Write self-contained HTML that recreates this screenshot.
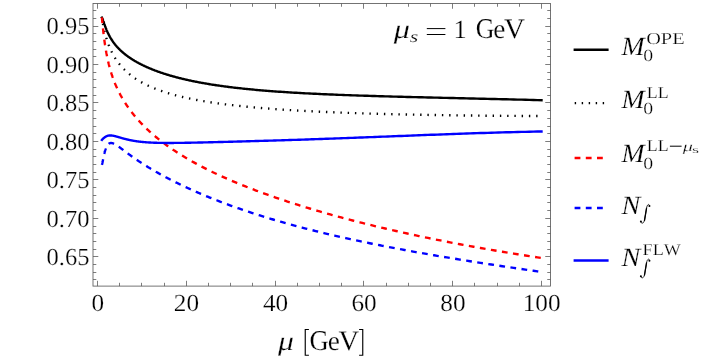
<!DOCTYPE html>
<html><head><meta charset="utf-8"><title>plot</title>
<style>html,body{margin:0;padding:0;background:#fff}svg{display:block;will-change:transform}text{font-family:"Liberation Serif",serif;fill:#000;text-rendering:geometricPrecision;font-kerning:none;stroke:#fff;stroke-width:0.22px}</style>
</head><body>
<svg width="711" height="363" viewBox="0 0 711 363">
<rect x="93.0" y="3.45" width="457.54999999999995" height="282.65000000000003" fill="none" stroke="#5c5c5c" stroke-width="0.85"/>
<path d="M97.50 286.1 v-5.3 M97.50 3.45 v5.3 M119.50 286.1 v-3.3 M119.50 3.45 v3.3 M141.50 286.1 v-3.3 M141.50 3.45 v3.3 M164.50 286.1 v-3.3 M164.50 3.45 v3.3 M186.50 286.1 v-5.3 M186.50 3.45 v5.3 M208.50 286.1 v-3.3 M208.50 3.45 v3.3 M230.50 286.1 v-3.3 M230.50 3.45 v3.3 M252.50 286.1 v-3.3 M252.50 3.45 v3.3 M275.50 286.1 v-5.3 M275.50 3.45 v5.3 M297.50 286.1 v-3.3 M297.50 3.45 v3.3 M319.50 286.1 v-3.3 M319.50 3.45 v3.3 M341.50 286.1 v-3.3 M341.50 3.45 v3.3 M363.50 286.1 v-5.3 M363.50 3.45 v5.3 M386.50 286.1 v-3.3 M386.50 3.45 v3.3 M408.50 286.1 v-3.3 M408.50 3.45 v3.3 M430.50 286.1 v-3.3 M430.50 3.45 v3.3 M452.50 286.1 v-5.3 M452.50 3.45 v5.3 M474.50 286.1 v-3.3 M474.50 3.45 v3.3 M497.50 286.1 v-3.3 M497.50 3.45 v3.3 M519.50 286.1 v-3.3 M519.50 3.45 v3.3 M541.50 286.1 v-5.3 M541.50 3.45 v5.3 M93.0 279.50 h3.3 M550.55 279.50 h-3.3 M93.0 272.50 h3.3 M550.55 272.50 h-3.3 M93.0 264.50 h3.3 M550.55 264.50 h-3.3 M93.0 256.50 h5.3 M550.55 256.50 h-5.3 M93.0 249.50 h3.3 M550.55 249.50 h-3.3 M93.0 241.50 h3.3 M550.55 241.50 h-3.3 M93.0 233.50 h3.3 M550.55 233.50 h-3.3 M93.0 226.50 h3.3 M550.55 226.50 h-3.3 M93.0 218.50 h5.3 M550.55 218.50 h-5.3 M93.0 210.50 h3.3 M550.55 210.50 h-3.3 M93.0 202.50 h3.3 M550.55 202.50 h-3.3 M93.0 195.50 h3.3 M550.55 195.50 h-3.3 M93.0 187.50 h3.3 M550.55 187.50 h-3.3 M93.0 179.50 h5.3 M550.55 179.50 h-5.3 M93.0 172.50 h3.3 M550.55 172.50 h-3.3 M93.0 164.50 h3.3 M550.55 164.50 h-3.3 M93.0 156.50 h3.3 M550.55 156.50 h-3.3 M93.0 149.50 h3.3 M550.55 149.50 h-3.3 M93.0 141.50 h5.3 M550.55 141.50 h-5.3 M93.0 133.50 h3.3 M550.55 133.50 h-3.3 M93.0 126.50 h3.3 M550.55 126.50 h-3.3 M93.0 118.50 h3.3 M550.55 118.50 h-3.3 M93.0 110.50 h3.3 M550.55 110.50 h-3.3 M93.0 102.50 h5.3 M550.55 102.50 h-5.3 M93.0 95.50 h3.3 M550.55 95.50 h-3.3 M93.0 87.50 h3.3 M550.55 87.50 h-3.3 M93.0 79.50 h3.3 M550.55 79.50 h-3.3 M93.0 72.50 h3.3 M550.55 72.50 h-3.3 M93.0 64.50 h5.3 M550.55 64.50 h-5.3 M93.0 56.50 h3.3 M550.55 56.50 h-3.3 M93.0 49.50 h3.3 M550.55 49.50 h-3.3 M93.0 41.50 h3.3 M550.55 41.50 h-3.3 M93.0 33.50 h3.3 M550.55 33.50 h-3.3 M93.0 26.50 h5.3 M550.55 26.50 h-5.3 M93.0 18.50 h3.3 M550.55 18.50 h-3.3 M93.0 10.50 h3.3 M550.55 10.50 h-3.3" stroke="#5c5c5c" stroke-width="0.8" fill="none"/>
<path d="M101.89 17.60 L101.93 17.67 L101.97 17.74 L102.02 17.82 L102.06 17.90 L102.10 17.98 L102.14 18.07 L102.19 18.16 L102.23 18.25 L102.28 18.35 L102.32 18.45 L102.36 18.56 L102.41 18.67 L102.46 18.78 L102.50 18.89 L102.55 19.01 L102.60 19.12 L102.64 19.25 L102.69 19.37 L102.74 19.50 L102.79 19.63 L102.84 19.76 L102.89 19.90 L102.94 20.03 L102.99 20.17 L103.04 20.32 L103.09 20.46 L103.15 20.61 L103.20 20.75 L103.25 20.90 L103.31 21.06 L103.36 21.21 L103.42 21.37 L103.47 21.53 L103.53 21.69 L103.58 21.85 L103.64 22.01 L103.70 22.18 L103.76 22.34 L103.81 22.51 L103.87 22.68 L103.93 22.85 L103.99 23.03 L104.05 23.20 L104.11 23.38 L104.18 23.55 L104.24 23.73 L104.30 23.91 L104.37 24.09 L104.43 24.27 L104.49 24.45 L104.56 24.64 L104.63 24.82 L104.69 25.01 L104.76 25.20 L104.83 25.38 L104.90 25.57 L104.96 25.76 L105.03 25.95 L105.10 26.14 L105.18 26.34 L105.25 26.53 L105.32 26.72 L105.39 26.92 L105.47 27.11 L105.54 27.31 L105.62 27.50 L105.69 27.70 L105.77 27.90 L105.84 28.09 L105.92 28.29 L106.00 28.49 L106.08 28.69 L106.16 28.89 L106.24 29.09 L106.32 29.29 L106.40 29.49 L106.49 29.69 L106.57 29.89 L106.66 30.10 L106.74 30.30 L106.83 30.50 L106.91 30.71 L107.00 30.91 L107.09 31.11 L107.18 31.32 L107.27 31.52 L107.36 31.72 L107.45 31.93 L107.55 32.13 L107.64 32.34 L107.73 32.54 L107.83 32.75 L107.93 32.95 L108.02 33.16 L108.12 33.36 L108.22 33.57 L108.32 33.77 L108.42 33.98 L108.52 34.18 L108.62 34.39 L108.73 34.60 L108.83 34.80 L108.94 35.01 L109.04 35.21 L109.15 35.42 L109.26 35.62 L109.37 35.83 L109.48 36.04 L109.59 36.24 L109.71 36.45 L109.82 36.65 L109.93 36.86 L110.05 37.06 L110.17 37.27 L110.28 37.47 L110.40 37.68 L110.52 37.88 L110.64 38.09 L110.77 38.30 L110.89 38.50 L111.01 38.71 L111.14 38.91 L111.27 39.12 L111.40 39.32 L111.52 39.52 L111.66 39.73 L111.79 39.93 L111.92 40.14 L112.05 40.34 L112.19 40.55 L112.33 40.75 L112.46 40.96 L112.60 41.16 L112.74 41.36 L112.89 41.57 L113.03 41.77 L113.17 41.97 L113.32 42.18 L113.47 42.38 L113.61 42.58 L113.76 42.79 L113.92 42.99 L114.07 43.19 L114.22 43.40 L114.38 43.60 L114.53 43.80 L114.69 44.01 L114.85 44.21 L115.01 44.41 L115.18 44.61 L115.34 44.82 L115.51 45.02 L115.67 45.22 L115.84 45.42 L116.01 45.62 L116.19 45.83 L116.36 46.03 L116.54 46.23 L116.71 46.43 L116.89 46.63 L117.07 46.84 L117.25 47.04 L117.44 47.24 L117.62 47.44 L117.81 47.64 L118.00 47.84 L118.19 48.05 L118.38 48.25 L118.57 48.45 L118.77 48.65 L118.97 48.85 L119.17 49.05 L119.37 49.25 L119.57 49.45 L119.78 49.66 L119.98 49.86 L120.19 50.06 L120.40 50.26 L120.62 50.46 L120.83 50.66 L121.05 50.86 L121.27 51.06 L121.49 51.27 L121.71 51.47 L121.94 51.67 L122.16 51.87 L122.39 52.07 L122.62 52.27 L122.86 52.47 L123.09 52.67 L123.33 52.88 L123.57 53.08 L123.81 53.28 L124.06 53.48 L124.30 53.68 L124.55 53.88 L124.80 54.08 L125.06 54.29 L125.31 54.49 L125.57 54.69 L125.83 54.89 L126.10 55.09 L126.36 55.29 L126.63 55.50 L126.90 55.70 L127.17 55.90 L127.45 56.10 L127.73 56.30 L128.01 56.51 L128.29 56.71 L128.58 56.91 L128.86 57.11 L129.16 57.32 L129.45 57.52 L129.75 57.72 L130.05 57.92 L130.35 58.13 L130.65 58.33 L130.96 58.53 L131.27 58.73 L131.59 58.94 L131.90 59.14 L132.22 59.34 L132.54 59.55 L132.87 59.75 L133.20 59.95 L133.53 60.16 L133.86 60.36 L134.20 60.56 L134.54 60.77 L134.89 60.97 L135.23 61.17 L135.58 61.38 L135.94 61.58 L136.29 61.78 L136.65 61.99 L137.02 62.19 L137.38 62.40 L137.75 62.60 L138.13 62.80 L138.50 63.01 L138.89 63.21 L139.27 63.42 L139.66 63.62 L140.05 63.82 L140.44 64.03 L140.84 64.23 L141.24 64.44 L141.65 64.64 L142.06 64.84 L142.47 65.05 L142.89 65.25 L143.31 65.46 L143.74 65.66 L144.17 65.87 L144.60 66.07 L145.04 66.27 L145.48 66.48 L145.92 66.68 L146.37 66.89 L146.83 67.09 L147.28 67.29 L147.75 67.50 L148.21 67.70 L148.68 67.91 L149.16 68.11 L149.64 68.31 L150.12 68.52 L150.61 68.72 L151.10 68.92 L151.60 69.13 L152.10 69.33 L152.61 69.53 L153.12 69.74 L153.64 69.94 L154.16 70.14 L154.68 70.35 L155.21 70.55 L155.75 70.75 L156.29 70.95 L156.84 71.16 L157.39 71.36 L157.94 71.56 L158.50 71.76 L159.07 71.96 L159.64 72.16 L160.22 72.36 L160.80 72.57 L161.39 72.77 L161.98 72.97 L162.58 73.17 L163.18 73.37 L163.79 73.57 L164.41 73.77 L165.03 73.96 L165.65 74.16 L166.29 74.36 L166.92 74.56 L167.57 74.76 L168.22 74.96 L168.87 75.15 L169.54 75.35 L170.20 75.55 L170.88 75.74 L171.56 75.94 L172.25 76.13 L172.94 76.33 L173.64 76.52 L174.35 76.72 L175.06 76.91 L175.78 77.10 L176.51 77.30 L177.24 77.49 L177.98 77.68 L178.72 77.87 L179.48 78.07 L180.24 78.26 L181.01 78.45 L181.78 78.64 L182.56 78.83 L183.35 79.01 L184.15 79.20 L184.95 79.39 L185.76 79.58 L186.58 79.76 L187.41 79.95 L188.24 80.13 L189.08 80.32 L189.93 80.50 L190.79 80.69 L191.66 80.87 L192.53 81.05 L193.41 81.23 L194.30 81.41 L195.20 81.59 L196.11 81.77 L197.02 81.95 L197.94 82.13 L198.88 82.31 L199.82 82.49 L200.77 82.66 L201.72 82.84 L202.69 83.01 L203.67 83.19 L204.65 83.36 L205.64 83.53 L206.65 83.70 L207.66 83.87 L208.68 84.04 L209.71 84.21 L210.75 84.38 L211.80 84.55 L212.86 84.71 L213.93 84.88 L215.01 85.04 L216.10 85.21 L217.20 85.37 L218.32 85.53 L219.44 85.69 L220.57 85.86 L221.71 86.01 L222.86 86.17 L224.02 86.33 L225.20 86.49 L226.38 86.64 L227.58 86.80 L228.78 86.95 L230.00 87.11 L231.23 87.26 L232.47 87.41 L233.72 87.56 L234.99 87.71 L236.26 87.85 L237.55 88.00 L238.85 88.15 L240.16 88.29 L241.48 88.44 L242.82 88.58 L244.16 88.72 L245.52 88.86 L246.90 89.00 L248.28 89.14 L249.68 89.28 L251.09 89.41 L252.52 89.55 L253.95 89.68 L255.41 89.82 L256.87 89.95 L258.35 90.08 L259.84 90.21 L261.35 90.34 L262.86 90.47 L264.40 90.60 L265.95 90.72 L267.51 90.85 L269.09 90.97 L270.68 91.09 L272.28 91.21 L273.90 91.33 L275.54 91.45 L277.19 91.57 L278.86 91.69 L280.54 91.81 L282.24 91.92 L283.95 92.03 L285.68 92.15 L287.42 92.26 L289.19 92.37 L290.96 92.48 L292.76 92.59 L294.57 92.70 L296.40 92.80 L298.24 92.91 L300.10 93.01 L301.98 93.12 L303.88 93.22 L305.79 93.32 L307.72 93.42 L309.67 93.52 L311.64 93.62 L313.63 93.72 L315.63 93.81 L317.65 93.91 L319.69 94.00 L321.75 94.10 L323.83 94.19 L325.93 94.28 L328.05 94.37 L330.19 94.47 L332.35 94.55 L334.53 94.64 L336.72 94.73 L338.94 94.82 L341.18 94.90 L343.44 94.99 L345.72 95.07 L348.02 95.16 L350.35 95.24 L352.69 95.32 L355.06 95.41 L357.45 95.49 L359.86 95.57 L362.29 95.65 L364.75 95.73 L367.22 95.80 L369.72 95.88 L372.25 95.96 L374.80 96.04 L377.37 96.11 L379.96 96.19 L382.58 96.27 L385.23 96.34 L387.89 96.42 L390.59 96.49 L393.31 96.57 L396.05 96.64 L398.82 96.71 L401.61 96.79 L404.43 96.86 L407.28 96.94 L410.15 97.01 L413.05 97.08 L415.97 97.16 L418.93 97.23 L421.91 97.30 L424.92 97.38 L427.95 97.45 L431.02 97.52 L434.11 97.60 L437.23 97.67 L440.38 97.75 L443.56 97.82 L446.77 97.90 L450.01 97.97 L453.28 98.05 L456.58 98.13 L459.91 98.20 L463.27 98.28 L466.66 98.36 L470.08 98.44 L473.54 98.52 L477.02 98.60 L480.54 98.69 L484.09 98.77 L487.68 98.85 L491.30 98.94 L494.95 99.03 L498.63 99.11 L502.35 99.20 L506.11 99.29 L509.90 99.39 L513.72 99.48 L517.58 99.57 L521.48 99.67 L525.41 99.77 L529.37 99.87 L533.38 99.97 L537.42 100.07 L541.50 100.18" stroke="#000" stroke-width="2.38" stroke-linecap="square" fill="none"/>
<path d="M101.89 17.60 L101.93 17.86 L101.97 18.12 L102.02 18.38 L102.06 18.64 L102.10 18.90 L102.14 19.16 L102.19 19.42 L102.23 19.69 L102.28 19.95 L102.32 20.22 L102.36 20.48 L102.41 20.75 L102.46 21.01 L102.50 21.28 L102.55 21.54 L102.60 21.81 L102.64 22.08 L102.69 22.35 L102.74 22.61 L102.79 22.88 L102.84 23.15 L102.89 23.42 L102.94 23.69 L102.99 23.96 L103.04 24.23 L103.09 24.50 L103.15 24.77 L103.20 25.04 L103.25 25.32 L103.31 25.59 L103.36 25.86 L103.42 26.13 L103.47 26.40 L103.53 26.68 L103.58 26.95 L103.64 27.22 L103.70 27.49 L103.76 27.77 L103.81 28.04 L103.87 28.31 L103.93 28.59 L103.99 28.86 L104.05 29.14 L104.11 29.41 L104.18 29.68 L104.24 29.96 L104.30 30.23 L104.37 30.51 L104.43 30.78 L104.49 31.06 L104.56 31.33 L104.63 31.61 L104.69 31.88 L104.76 32.15 L104.83 32.43 L104.90 32.70 L104.96 32.98 L105.03 33.25 L105.10 33.53 L105.18 33.80 L105.25 34.08 L105.32 34.35 L105.39 34.63 L105.47 34.90 L105.54 35.18 L105.62 35.45 L105.69 35.72 L105.77 36.00 L105.84 36.27 L105.92 36.55 L106.00 36.82 L106.08 37.10 L106.16 37.37 L106.24 37.64 L106.32 37.92 L106.40 38.19 L106.49 38.47 L106.57 38.74 L106.66 39.01 L106.74 39.29 L106.83 39.56 L106.91 39.83 L107.00 40.11 L107.09 40.38 L107.18 40.65 L107.27 40.93 L107.36 41.20 L107.45 41.47 L107.55 41.74 L107.64 42.02 L107.73 42.29 L107.83 42.56 L107.93 42.83 L108.02 43.10 L108.12 43.38 L108.22 43.65 L108.32 43.92 L108.42 44.19 L108.52 44.46 L108.62 44.73 L108.73 45.00 L108.83 45.27 L108.94 45.54 L109.04 45.81 L109.15 46.08 L109.26 46.35 L109.37 46.62 L109.48 46.89 L109.59 47.16 L109.71 47.43 L109.82 47.70 L109.93 47.97 L110.05 48.24 L110.17 48.51 L110.28 48.78 L110.40 49.04 L110.52 49.31 L110.64 49.58 L110.77 49.85 L110.89 50.12 L111.01 50.38 L111.14 50.65 L111.27 50.92 L111.40 51.18 L111.52 51.45 L111.66 51.72 L111.79 51.98 L111.92 52.25 L112.05 52.51 L112.19 52.78 L112.33 53.04 L112.46 53.31 L112.60 53.57 L112.74 53.84 L112.89 54.10 L113.03 54.37 L113.17 54.63 L113.32 54.89 L113.47 55.16 L113.61 55.42 L113.76 55.68 L113.92 55.95 L114.07 56.21 L114.22 56.47 L114.38 56.73 L114.53 57.00 L114.69 57.26 L114.85 57.52 L115.01 57.78 L115.18 58.04 L115.34 58.30 L115.51 58.56 L115.67 58.82 L115.84 59.08 L116.01 59.34 L116.19 59.60 L116.36 59.86 L116.54 60.12 L116.71 60.38 L116.89 60.64 L117.07 60.90 L117.25 61.15 L117.44 61.41 L117.62 61.67 L117.81 61.93 L118.00 62.18 L118.19 62.44 L118.38 62.70 L118.57 62.95 L118.77 63.21 L118.97 63.47 L119.17 63.72 L119.37 63.98 L119.57 64.23 L119.78 64.48 L119.98 64.74 L120.19 64.99 L120.40 65.25 L120.62 65.50 L120.83 65.75 L121.05 66.01 L121.27 66.26 L121.49 66.51 L121.71 66.76 L121.94 67.01 L122.16 67.27 L122.39 67.52 L122.62 67.77 L122.86 68.02 L123.09 68.27 L123.33 68.52 L123.57 68.77 L123.81 69.02 L124.06 69.26 L124.30 69.51 L124.55 69.76 L124.80 70.01 L125.06 70.26 L125.31 70.50 L125.57 70.75 L125.83 71.00 L126.10 71.24 L126.36 71.49 L126.63 71.73 L126.90 71.98 L127.17 72.22 L127.45 72.47 L127.73 72.71 L128.01 72.96 L128.29 73.20 L128.58 73.44 L128.86 73.68 L129.16 73.93 L129.45 74.17 L129.75 74.41 L130.05 74.65 L130.35 74.89 L130.65 75.13 L130.96 75.37 L131.27 75.61 L131.59 75.85 L131.90 76.09 L132.22 76.33 L132.54 76.56 L132.87 76.80 L133.20 77.04 L133.53 77.28 L133.86 77.51 L134.20 77.75 L134.54 77.98 L134.89 78.22 L135.23 78.45 L135.58 78.69 L135.94 78.92 L136.29 79.15 L136.65 79.39 L137.02 79.62 L137.38 79.85 L137.75 80.08 L138.13 80.31 L138.50 80.54 L138.89 80.77 L139.27 81.00 L139.66 81.23 L140.05 81.46 L140.44 81.69 L140.84 81.91 L141.24 82.14 L141.65 82.37 L142.06 82.59 L142.47 82.82 L142.89 83.05 L143.31 83.27 L143.74 83.49 L144.17 83.72 L144.60 83.94 L145.04 84.16 L145.48 84.39 L145.92 84.61 L146.37 84.83 L146.83 85.05 L147.28 85.27 L147.75 85.49 L148.21 85.71 L148.68 85.93 L149.16 86.14 L149.64 86.36 L150.12 86.58 L150.61 86.79 L151.10 87.01 L151.60 87.22 L152.10 87.44 L152.61 87.65 L153.12 87.87 L153.64 88.08 L154.16 88.29 L154.68 88.50 L155.21 88.71 L155.75 88.92 L156.29 89.13 L156.84 89.34 L157.39 89.55 L157.94 89.76 L158.50 89.97 L159.07 90.17 L159.64 90.38 L160.22 90.58 L160.80 90.79 L161.39 90.99 L161.98 91.20 L162.58 91.40 L163.18 91.60 L163.79 91.80 L164.41 92.01 L165.03 92.21 L165.65 92.41 L166.29 92.61 L166.92 92.80 L167.57 93.00 L168.22 93.20 L168.87 93.40 L169.54 93.59 L170.20 93.79 L170.88 93.98 L171.56 94.17 L172.25 94.37 L172.94 94.56 L173.64 94.75 L174.35 94.94 L175.06 95.13 L175.78 95.32 L176.51 95.51 L177.24 95.70 L177.98 95.89 L178.72 96.08 L179.48 96.26 L180.24 96.45 L181.01 96.63 L181.78 96.82 L182.56 97.00 L183.35 97.18 L184.15 97.36 L184.95 97.55 L185.76 97.73 L186.58 97.91 L187.41 98.08 L188.24 98.26 L189.08 98.44 L189.93 98.62 L190.79 98.79 L191.66 98.97 L192.53 99.14 L193.41 99.32 L194.30 99.49 L195.20 99.66 L196.11 99.83 L197.02 100.00 L197.94 100.17 L198.88 100.34 L199.82 100.51 L200.77 100.68 L201.72 100.84 L202.69 101.01 L203.67 101.18 L204.65 101.34 L205.64 101.50 L206.65 101.67 L207.66 101.83 L208.68 101.99 L209.71 102.15 L210.75 102.31 L211.80 102.47 L212.86 102.63 L213.93 102.78 L215.01 102.94 L216.10 103.10 L217.20 103.25 L218.32 103.41 L219.44 103.56 L220.57 103.71 L221.71 103.86 L222.86 104.01 L224.02 104.16 L225.20 104.31 L226.38 104.46 L227.58 104.61 L228.78 104.76 L230.00 104.90 L231.23 105.05 L232.47 105.19 L233.72 105.33 L234.99 105.48 L236.26 105.62 L237.55 105.76 L238.85 105.90 L240.16 106.04 L241.48 106.18 L242.82 106.31 L244.16 106.45 L245.52 106.59 L246.90 106.72 L248.28 106.85 L249.68 106.99 L251.09 107.12 L252.52 107.25 L253.95 107.38 L255.41 107.51 L256.87 107.64 L258.35 107.77 L259.84 107.90 L261.35 108.02 L262.86 108.15 L264.40 108.27 L265.95 108.39 L267.51 108.52 L269.09 108.64 L270.68 108.76 L272.28 108.88 L273.90 109.00 L275.54 109.12 L277.19 109.24 L278.86 109.35 L280.54 109.47 L282.24 109.58 L283.95 109.70 L285.68 109.81 L287.42 109.92 L289.19 110.03 L290.96 110.14 L292.76 110.25 L294.57 110.36 L296.40 110.47 L298.24 110.58 L300.10 110.68 L301.98 110.79 L303.88 110.89 L305.79 110.99 L307.72 111.10 L309.67 111.20 L311.64 111.30 L313.63 111.40 L315.63 111.49 L317.65 111.59 L319.69 111.69 L321.75 111.78 L323.83 111.88 L325.93 111.97 L328.05 112.07 L330.19 112.16 L332.35 112.25 L334.53 112.34 L336.72 112.43 L338.94 112.52 L341.18 112.60 L343.44 112.69 L345.72 112.77 L348.02 112.86 L350.35 112.94 L352.69 113.03 L355.06 113.11 L357.45 113.19 L359.86 113.27 L362.29 113.35 L364.75 113.42 L367.22 113.50 L369.72 113.58 L372.25 113.65 L374.80 113.72 L377.37 113.80 L379.96 113.87 L382.58 113.94 L385.23 114.01 L387.89 114.08 L390.59 114.14 L393.31 114.21 L396.05 114.28 L398.82 114.34 L401.61 114.40 L404.43 114.47 L407.28 114.53 L410.15 114.59 L413.05 114.65 L415.97 114.71 L418.93 114.76 L421.91 114.82 L424.92 114.88 L427.95 114.93 L431.02 114.98 L434.11 115.03 L437.23 115.08 L440.38 115.13 L443.56 115.18 L446.77 115.23 L450.01 115.28 L453.28 115.32 L456.58 115.37 L459.91 115.41 L463.27 115.45 L466.66 115.49 L470.08 115.53 L473.54 115.57 L477.02 115.61 L480.54 115.64 L484.09 115.68 L487.68 115.71 L491.30 115.74 L494.95 115.77 L498.63 115.80 L502.35 115.83 L506.11 115.86 L509.90 115.89 L513.72 115.91 L517.58 115.93 L521.48 115.96 L525.41 115.98 L529.37 116.00 L533.38 116.02 L537.42 116.03 L541.50 116.05" stroke="#000" stroke-width="2.38" fill="none" stroke-dasharray="1.4 5.85" stroke-dashoffset="1.1"/>
<path d="M101.89 17.30 L101.93 17.76 L101.97 18.23 L102.02 18.69 L102.06 19.16 L102.10 19.63 L102.14 20.10 L102.19 20.57 L102.23 21.04 L102.28 21.52 L102.32 21.99 L102.36 22.47 L102.41 22.94 L102.46 23.42 L102.50 23.90 L102.55 24.38 L102.60 24.86 L102.64 25.33 L102.69 25.81 L102.74 26.29 L102.79 26.78 L102.84 27.26 L102.89 27.74 L102.94 28.22 L102.99 28.70 L103.04 29.18 L103.09 29.66 L103.15 30.15 L103.20 30.63 L103.25 31.11 L103.31 31.59 L103.36 32.07 L103.42 32.55 L103.47 33.03 L103.53 33.51 L103.58 33.99 L103.64 34.47 L103.70 34.95 L103.76 35.43 L103.81 35.91 L103.87 36.38 L103.93 36.86 L103.99 37.34 L104.05 37.81 L104.11 38.29 L104.18 38.76 L104.24 39.24 L104.30 39.71 L104.37 40.18 L104.43 40.65 L104.49 41.12 L104.56 41.59 L104.63 42.06 L104.69 42.53 L104.76 43.00 L104.83 43.47 L104.90 43.93 L104.96 44.40 L105.03 44.86 L105.10 45.32 L105.18 45.79 L105.25 46.25 L105.32 46.71 L105.39 47.17 L105.47 47.62 L105.54 48.08 L105.62 48.54 L105.69 48.99 L105.77 49.45 L105.84 49.90 L105.92 50.35 L106.00 50.80 L106.08 51.26 L106.16 51.70 L106.24 52.15 L106.32 52.60 L106.40 53.05 L106.49 53.49 L106.57 53.94 L106.66 54.38 L106.74 54.82 L106.83 55.26 L106.91 55.70 L107.00 56.14 L107.09 56.58 L107.18 57.02 L107.27 57.46 L107.36 57.89 L107.45 58.33 L107.55 58.76 L107.64 59.19 L107.73 59.62 L107.83 60.05 L107.93 60.48 L108.02 60.91 L108.12 61.34 L108.22 61.77 L108.32 62.19 L108.42 62.62 L108.52 63.04 L108.62 63.47 L108.73 63.89 L108.83 64.31 L108.94 64.73 L109.04 65.15 L109.15 65.57 L109.26 65.99 L109.37 66.41 L109.48 66.82 L109.59 67.24 L109.71 67.65 L109.82 68.07 L109.93 68.48 L110.05 68.90 L110.17 69.31 L110.28 69.72 L110.40 70.13 L110.52 70.54 L110.64 70.95 L110.77 71.36 L110.89 71.77 L111.01 72.17 L111.14 72.58 L111.27 72.99 L111.40 73.39 L111.52 73.80 L111.66 74.20 L111.79 74.61 L111.92 75.01 L112.05 75.41 L112.19 75.82 L112.33 76.22 L112.46 76.62 L112.60 77.02 L112.74 77.42 L112.89 77.82 L113.03 78.22 L113.17 78.62 L113.32 79.02 L113.47 79.42 L113.61 79.82 L113.76 80.22 L113.92 80.61 L114.07 81.01 L114.22 81.41 L114.38 81.80 L114.53 82.20 L114.69 82.60 L114.85 82.99 L115.01 83.39 L115.18 83.78 L115.34 84.18 L115.51 84.57 L115.67 84.97 L115.84 85.36 L116.01 85.76 L116.19 86.15 L116.36 86.55 L116.54 86.94 L116.71 87.33 L116.89 87.73 L117.07 88.12 L117.25 88.51 L117.44 88.91 L117.62 89.30 L117.81 89.70 L118.00 90.09 L118.19 90.48 L118.38 90.88 L118.57 91.27 L118.77 91.66 L118.97 92.06 L119.17 92.45 L119.37 92.85 L119.57 93.24 L119.78 93.63 L119.98 94.03 L120.19 94.42 L120.40 94.82 L120.62 95.21 L120.83 95.61 L121.05 96.00 L121.27 96.40 L121.49 96.79 L121.71 97.19 L121.94 97.58 L122.16 97.98 L122.39 98.37 L122.62 98.77 L122.86 99.17 L123.09 99.56 L123.33 99.96 L123.57 100.36 L123.81 100.76 L124.06 101.15 L124.30 101.55 L124.55 101.95 L124.80 102.35 L125.06 102.75 L125.31 103.15 L125.57 103.55 L125.83 103.95 L126.10 104.35 L126.36 104.75 L126.63 105.15 L126.90 105.56 L127.17 105.96 L127.45 106.36 L127.73 106.76 L128.01 107.17 L128.29 107.57 L128.58 107.98 L128.86 108.38 L129.16 108.79 L129.45 109.19 L129.75 109.60 L130.05 110.01 L130.35 110.41 L130.65 110.82 L130.96 111.23 L131.27 111.64 L131.59 112.05 L131.90 112.46 L132.22 112.87 L132.54 113.28 L132.87 113.69 L133.20 114.10 L133.53 114.51 L133.86 114.93 L134.20 115.34 L134.54 115.75 L134.89 116.17 L135.23 116.58 L135.58 117.00 L135.94 117.42 L136.29 117.83 L136.65 118.25 L137.02 118.67 L137.38 119.09 L137.75 119.51 L138.13 119.93 L138.50 120.35 L138.89 120.77 L139.27 121.19 L139.66 121.61 L140.05 122.04 L140.44 122.46 L140.84 122.89 L141.24 123.31 L141.65 123.74 L142.06 124.16 L142.47 124.59 L142.89 125.02 L143.31 125.45 L143.74 125.87 L144.17 126.30 L144.60 126.74 L145.04 127.17 L145.48 127.60 L145.92 128.03 L146.37 128.46 L146.83 128.90 L147.28 129.33 L147.75 129.77 L148.21 130.20 L148.68 130.64 L149.16 131.08 L149.64 131.52 L150.12 131.95 L150.61 132.39 L151.10 132.83 L151.60 133.27 L152.10 133.72 L152.61 134.16 L153.12 134.60 L153.64 135.05 L154.16 135.49 L154.68 135.94 L155.21 136.38 L155.75 136.83 L156.29 137.28 L156.84 137.72 L157.39 138.17 L157.94 138.62 L158.50 139.07 L159.07 139.53 L159.64 139.98 L160.22 140.43 L160.80 140.88 L161.39 141.34 L161.98 141.79 L162.58 142.25 L163.18 142.71 L163.79 143.16 L164.41 143.62 L165.03 144.08 L165.65 144.54 L166.29 145.00 L166.92 145.47 L167.57 145.93 L168.22 146.39 L168.87 146.86 L169.54 147.32 L170.20 147.79 L170.88 148.25 L171.56 148.72 L172.25 149.19 L172.94 149.66 L173.64 150.13 L174.35 150.60 L175.06 151.07 L175.78 151.54 L176.51 152.02 L177.24 152.49 L177.98 152.96 L178.72 153.44 L179.48 153.92 L180.24 154.39 L181.01 154.87 L181.78 155.35 L182.56 155.83 L183.35 156.31 L184.15 156.80 L184.95 157.28 L185.76 157.76 L186.58 158.25 L187.41 158.73 L188.24 159.22 L189.08 159.71 L189.93 160.20 L190.79 160.69 L191.66 161.18 L192.53 161.67 L193.41 162.16 L194.30 162.65 L195.20 163.15 L196.11 163.64 L197.02 164.14 L197.94 164.64 L198.88 165.13 L199.82 165.63 L200.77 166.13 L201.72 166.63 L202.69 167.13 L203.67 167.64 L204.65 168.14 L205.64 168.65 L206.65 169.15 L207.66 169.66 L208.68 170.17 L209.71 170.68 L210.75 171.19 L211.80 171.70 L212.86 172.21 L213.93 172.72 L215.01 173.24 L216.10 173.75 L217.20 174.27 L218.32 174.78 L219.44 175.30 L220.57 175.82 L221.71 176.34 L222.86 176.86 L224.02 177.39 L225.20 177.91 L226.38 178.44 L227.58 178.96 L228.78 179.49 L230.00 180.02 L231.23 180.55 L232.47 181.08 L233.72 181.61 L234.99 182.14 L236.26 182.67 L237.55 183.21 L238.85 183.75 L240.16 184.28 L241.48 184.82 L242.82 185.36 L244.16 185.90 L245.52 186.44 L246.90 186.99 L248.28 187.53 L249.68 188.07 L251.09 188.62 L252.52 189.17 L253.95 189.72 L255.41 190.27 L256.87 190.82 L258.35 191.37 L259.84 191.92 L261.35 192.48 L262.86 193.04 L264.40 193.59 L265.95 194.15 L267.51 194.71 L269.09 195.27 L270.68 195.83 L272.28 196.40 L273.90 196.96 L275.54 197.53 L277.19 198.09 L278.86 198.66 L280.54 199.23 L282.24 199.80 L283.95 200.37 L285.68 200.95 L287.42 201.52 L289.19 202.10 L290.96 202.67 L292.76 203.25 L294.57 203.83 L296.40 204.41 L298.24 204.99 L300.10 205.57 L301.98 206.16 L303.88 206.74 L305.79 207.33 L307.72 207.92 L309.67 208.50 L311.64 209.09 L313.63 209.68 L315.63 210.28 L317.65 210.87 L319.69 211.46 L321.75 212.06 L323.83 212.66 L325.93 213.25 L328.05 213.85 L330.19 214.45 L332.35 215.05 L334.53 215.66 L336.72 216.26 L338.94 216.86 L341.18 217.47 L343.44 218.08 L345.72 218.68 L348.02 219.29 L350.35 219.90 L352.69 220.51 L355.06 221.12 L357.45 221.74 L359.86 222.35 L362.29 222.96 L364.75 223.58 L367.22 224.19 L369.72 224.81 L372.25 225.43 L374.80 226.05 L377.37 226.67 L379.96 227.29 L382.58 227.91 L385.23 228.53 L387.89 229.15 L390.59 229.78 L393.31 230.40 L396.05 231.02 L398.82 231.65 L401.61 232.27 L404.43 232.90 L407.28 233.53 L410.15 234.16 L413.05 234.78 L415.97 235.41 L418.93 236.04 L421.91 236.67 L424.92 237.30 L427.95 237.93 L431.02 238.56 L434.11 239.19 L437.23 239.82 L440.38 240.45 L443.56 241.08 L446.77 241.71 L450.01 242.34 L453.28 242.97 L456.58 243.60 L459.91 244.23 L463.27 244.86 L466.66 245.49 L470.08 246.12 L473.54 246.74 L477.02 247.37 L480.54 248.00 L484.09 248.63 L487.68 249.25 L491.30 249.88 L494.95 250.50 L498.63 251.13 L502.35 251.75 L506.11 252.38 L509.90 253.00 L513.72 253.62 L517.58 254.24 L521.48 254.86 L525.41 255.47 L529.37 256.09 L533.38 256.70 L537.42 257.31 L541.50 257.93" stroke="#f00" stroke-width="2.38" fill="none" stroke-dasharray="5.75 5.44"/>
<path d="M101.89 164.90 L101.93 164.79 L101.97 164.67 L102.02 164.54 L102.06 164.40 L102.10 164.25 L102.14 164.09 L102.19 163.92 L102.23 163.75 L102.28 163.57 L102.32 163.37 L102.36 163.17 L102.41 162.97 L102.46 162.76 L102.50 162.54 L102.55 162.31 L102.60 162.09 L102.64 161.85 L102.69 161.61 L102.74 161.37 L102.79 161.12 L102.84 160.87 L102.89 160.61 L102.94 160.35 L102.99 160.09 L103.04 159.83 L103.09 159.56 L103.15 159.29 L103.20 159.02 L103.25 158.74 L103.31 158.47 L103.36 158.19 L103.42 157.92 L103.47 157.64 L103.53 157.36 L103.58 157.08 L103.64 156.80 L103.70 156.52 L103.76 156.24 L103.81 155.96 L103.87 155.69 L103.93 155.41 L103.99 155.13 L104.05 154.86 L104.11 154.58 L104.18 154.31 L104.24 154.04 L104.30 153.76 L104.37 153.50 L104.43 153.23 L104.49 152.96 L104.56 152.70 L104.63 152.44 L104.69 152.18 L104.76 151.93 L104.83 151.67 L104.90 151.42 L104.96 151.17 L105.03 150.93 L105.10 150.69 L105.18 150.45 L105.25 150.21 L105.32 149.98 L105.39 149.75 L105.47 149.52 L105.54 149.30 L105.62 149.08 L105.69 148.86 L105.77 148.65 L105.84 148.44 L105.92 148.23 L106.00 148.03 L106.08 147.83 L106.16 147.64 L106.24 147.45 L106.32 147.26 L106.40 147.08 L106.49 146.90 L106.57 146.72 L106.66 146.55 L106.74 146.38 L106.83 146.22 L106.91 146.06 L107.00 145.90 L107.09 145.75 L107.18 145.61 L107.27 145.46 L107.36 145.32 L107.45 145.19 L107.55 145.06 L107.64 144.93 L107.73 144.81 L107.83 144.69 L107.93 144.58 L108.02 144.47 L108.12 144.36 L108.22 144.26 L108.32 144.16 L108.42 144.07 L108.52 143.98 L108.62 143.90 L108.73 143.81 L108.83 143.74 L108.94 143.66 L109.04 143.59 L109.15 143.53 L109.26 143.47 L109.37 143.41 L109.48 143.36 L109.59 143.31 L109.71 143.26 L109.82 143.22 L109.93 143.19 L110.05 143.15 L110.17 143.12 L110.28 143.10 L110.40 143.07 L110.52 143.06 L110.64 143.04 L110.77 143.03 L110.89 143.02 L111.01 143.02 L111.14 143.02 L111.27 143.02 L111.40 143.03 L111.52 143.04 L111.66 143.06 L111.79 143.08 L111.92 143.10 L112.05 143.12 L112.19 143.15 L112.33 143.18 L112.46 143.22 L112.60 143.25 L112.74 143.30 L112.89 143.34 L113.03 143.39 L113.17 143.44 L113.32 143.49 L113.47 143.55 L113.61 143.61 L113.76 143.68 L113.92 143.74 L114.07 143.81 L114.22 143.88 L114.38 143.96 L114.53 144.04 L114.69 144.12 L114.85 144.20 L115.01 144.29 L115.18 144.38 L115.34 144.47 L115.51 144.57 L115.67 144.66 L115.84 144.77 L116.01 144.87 L116.19 144.97 L116.36 145.08 L116.54 145.19 L116.71 145.31 L116.89 145.42 L117.07 145.54 L117.25 145.66 L117.44 145.78 L117.62 145.91 L117.81 146.03 L118.00 146.16 L118.19 146.30 L118.38 146.43 L118.57 146.57 L118.77 146.71 L118.97 146.85 L119.17 146.99 L119.37 147.13 L119.57 147.28 L119.78 147.43 L119.98 147.58 L120.19 147.73 L120.40 147.89 L120.62 148.05 L120.83 148.21 L121.05 148.37 L121.27 148.53 L121.49 148.70 L121.71 148.86 L121.94 149.03 L122.16 149.20 L122.39 149.37 L122.62 149.55 L122.86 149.72 L123.09 149.90 L123.33 150.08 L123.57 150.26 L123.81 150.44 L124.06 150.63 L124.30 150.81 L124.55 151.00 L124.80 151.19 L125.06 151.38 L125.31 151.57 L125.57 151.77 L125.83 151.96 L126.10 152.16 L126.36 152.36 L126.63 152.56 L126.90 152.76 L127.17 152.97 L127.45 153.17 L127.73 153.38 L128.01 153.59 L128.29 153.80 L128.58 154.01 L128.86 154.22 L129.16 154.43 L129.45 154.65 L129.75 154.87 L130.05 155.08 L130.35 155.30 L130.65 155.53 L130.96 155.75 L131.27 155.97 L131.59 156.20 L131.90 156.42 L132.22 156.65 L132.54 156.88 L132.87 157.11 L133.20 157.35 L133.53 157.58 L133.86 157.81 L134.20 158.05 L134.54 158.29 L134.89 158.53 L135.23 158.77 L135.58 159.01 L135.94 159.25 L136.29 159.50 L136.65 159.74 L137.02 159.99 L137.38 160.24 L137.75 160.49 L138.13 160.74 L138.50 161.00 L138.89 161.25 L139.27 161.51 L139.66 161.76 L140.05 162.02 L140.44 162.28 L140.84 162.54 L141.24 162.81 L141.65 163.07 L142.06 163.33 L142.47 163.60 L142.89 163.87 L143.31 164.14 L143.74 164.41 L144.17 164.68 L144.60 164.96 L145.04 165.23 L145.48 165.51 L145.92 165.79 L146.37 166.07 L146.83 166.35 L147.28 166.63 L147.75 166.91 L148.21 167.20 L148.68 167.49 L149.16 167.77 L149.64 168.06 L150.12 168.35 L150.61 168.65 L151.10 168.94 L151.60 169.24 L152.10 169.53 L152.61 169.83 L153.12 170.13 L153.64 170.43 L154.16 170.74 L154.68 171.04 L155.21 171.35 L155.75 171.65 L156.29 171.96 L156.84 172.27 L157.39 172.58 L157.94 172.90 L158.50 173.21 L159.07 173.53 L159.64 173.85 L160.22 174.17 L160.80 174.49 L161.39 174.81 L161.98 175.14 L162.58 175.46 L163.18 175.79 L163.79 176.12 L164.41 176.45 L165.03 176.78 L165.65 177.12 L166.29 177.45 L166.92 177.79 L167.57 178.13 L168.22 178.47 L168.87 178.81 L169.54 179.15 L170.20 179.50 L170.88 179.84 L171.56 180.19 L172.25 180.54 L172.94 180.89 L173.64 181.25 L174.35 181.60 L175.06 181.96 L175.78 182.32 L176.51 182.68 L177.24 183.04 L177.98 183.40 L178.72 183.76 L179.48 184.13 L180.24 184.50 L181.01 184.87 L181.78 185.24 L182.56 185.61 L183.35 185.98 L184.15 186.36 L184.95 186.74 L185.76 187.12 L186.58 187.50 L187.41 187.88 L188.24 188.26 L189.08 188.65 L189.93 189.04 L190.79 189.43 L191.66 189.82 L192.53 190.21 L193.41 190.60 L194.30 191.00 L195.20 191.39 L196.11 191.79 L197.02 192.19 L197.94 192.59 L198.88 193.00 L199.82 193.40 L200.77 193.81 L201.72 194.22 L202.69 194.62 L203.67 195.04 L204.65 195.45 L205.64 195.86 L206.65 196.28 L207.66 196.69 L208.68 197.11 L209.71 197.53 L210.75 197.95 L211.80 198.38 L212.86 198.80 L213.93 199.23 L215.01 199.65 L216.10 200.08 L217.20 200.51 L218.32 200.95 L219.44 201.38 L220.57 201.81 L221.71 202.25 L222.86 202.69 L224.02 203.13 L225.20 203.57 L226.38 204.01 L227.58 204.45 L228.78 204.89 L230.00 205.34 L231.23 205.79 L232.47 206.23 L233.72 206.68 L234.99 207.13 L236.26 207.59 L237.55 208.04 L238.85 208.49 L240.16 208.95 L241.48 209.41 L242.82 209.86 L244.16 210.32 L245.52 210.78 L246.90 211.25 L248.28 211.71 L249.68 212.17 L251.09 212.64 L252.52 213.10 L253.95 213.57 L255.41 214.04 L256.87 214.51 L258.35 214.98 L259.84 215.45 L261.35 215.93 L262.86 216.40 L264.40 216.87 L265.95 217.35 L267.51 217.83 L269.09 218.30 L270.68 218.78 L272.28 219.26 L273.90 219.74 L275.54 220.23 L277.19 220.71 L278.86 221.19 L280.54 221.68 L282.24 222.16 L283.95 222.65 L285.68 223.13 L287.42 223.62 L289.19 224.11 L290.96 224.60 L292.76 225.09 L294.57 225.58 L296.40 226.07 L298.24 226.57 L300.10 227.06 L301.98 227.55 L303.88 228.05 L305.79 228.54 L307.72 229.04 L309.67 229.54 L311.64 230.04 L313.63 230.53 L315.63 231.03 L317.65 231.53 L319.69 232.03 L321.75 232.54 L323.83 233.04 L325.93 233.54 L328.05 234.04 L330.19 234.55 L332.35 235.05 L334.53 235.56 L336.72 236.06 L338.94 236.57 L341.18 237.08 L343.44 237.59 L345.72 238.09 L348.02 238.60 L350.35 239.11 L352.69 239.62 L355.06 240.13 L357.45 240.65 L359.86 241.16 L362.29 241.67 L364.75 242.18 L367.22 242.70 L369.72 243.21 L372.25 243.73 L374.80 244.25 L377.37 244.76 L379.96 245.28 L382.58 245.80 L385.23 246.32 L387.89 246.84 L390.59 247.36 L393.31 247.88 L396.05 248.40 L398.82 248.92 L401.61 249.45 L404.43 249.97 L407.28 250.50 L410.15 251.02 L413.05 251.55 L415.97 252.08 L418.93 252.61 L421.91 253.14 L424.92 253.67 L427.95 254.20 L431.02 254.73 L434.11 255.27 L437.23 255.80 L440.38 256.34 L443.56 256.87 L446.77 257.41 L450.01 257.95 L453.28 258.49 L456.58 259.03 L459.91 259.58 L463.27 260.12 L466.66 260.67 L470.08 261.21 L473.54 261.76 L477.02 262.31 L480.54 262.86 L484.09 263.42 L487.68 263.97 L491.30 264.53 L494.95 265.09 L498.63 265.65 L502.35 266.21 L506.11 266.77 L509.90 267.34 L513.72 267.91 L517.58 268.48 L521.48 269.05 L525.41 269.62 L529.37 270.20 L533.38 270.78 L537.42 271.36 L541.50 271.94" stroke="#00f" stroke-width="2.38" fill="none" stroke-dasharray="5.75 5.44"/>
<path d="M101.89 139.95 L101.93 139.89 L101.97 139.84 L102.02 139.78 L102.06 139.73 L102.10 139.68 L102.14 139.62 L102.19 139.57 L102.23 139.52 L102.28 139.47 L102.32 139.42 L102.36 139.37 L102.41 139.32 L102.46 139.27 L102.50 139.23 L102.55 139.18 L102.60 139.13 L102.64 139.08 L102.69 139.03 L102.74 138.99 L102.79 138.94 L102.84 138.89 L102.89 138.84 L102.94 138.80 L102.99 138.75 L103.04 138.70 L103.09 138.66 L103.15 138.61 L103.20 138.56 L103.25 138.51 L103.31 138.46 L103.36 138.42 L103.42 138.37 L103.47 138.32 L103.53 138.27 L103.58 138.22 L103.64 138.17 L103.70 138.12 L103.76 138.08 L103.81 138.03 L103.87 137.98 L103.93 137.93 L103.99 137.88 L104.05 137.83 L104.11 137.78 L104.18 137.73 L104.24 137.68 L104.30 137.63 L104.37 137.58 L104.43 137.53 L104.49 137.48 L104.56 137.43 L104.63 137.38 L104.69 137.33 L104.76 137.28 L104.83 137.24 L104.90 137.19 L104.96 137.14 L105.03 137.09 L105.10 137.04 L105.18 136.99 L105.25 136.95 L105.32 136.90 L105.39 136.85 L105.47 136.81 L105.54 136.76 L105.62 136.71 L105.69 136.67 L105.77 136.62 L105.84 136.58 L105.92 136.54 L106.00 136.49 L106.08 136.45 L106.16 136.41 L106.24 136.37 L106.32 136.33 L106.40 136.29 L106.49 136.25 L106.57 136.21 L106.66 136.17 L106.74 136.13 L106.83 136.10 L106.91 136.06 L107.00 136.02 L107.09 135.99 L107.18 135.96 L107.27 135.92 L107.36 135.89 L107.45 135.86 L107.55 135.83 L107.64 135.80 L107.73 135.78 L107.83 135.75 L107.93 135.72 L108.02 135.70 L108.12 135.68 L108.22 135.65 L108.32 135.63 L108.42 135.61 L108.52 135.59 L108.62 135.57 L108.73 135.56 L108.83 135.54 L108.94 135.52 L109.04 135.51 L109.15 135.50 L109.26 135.49 L109.37 135.48 L109.48 135.47 L109.59 135.46 L109.71 135.45 L109.82 135.45 L109.93 135.44 L110.05 135.44 L110.17 135.44 L110.28 135.44 L110.40 135.44 L110.52 135.44 L110.64 135.45 L110.77 135.45 L110.89 135.46 L111.01 135.46 L111.14 135.47 L111.27 135.48 L111.40 135.49 L111.52 135.50 L111.66 135.52 L111.79 135.53 L111.92 135.55 L112.05 135.56 L112.19 135.58 L112.33 135.60 L112.46 135.62 L112.60 135.64 L112.74 135.67 L112.89 135.69 L113.03 135.71 L113.17 135.74 L113.32 135.77 L113.47 135.80 L113.61 135.83 L113.76 135.86 L113.92 135.89 L114.07 135.92 L114.22 135.96 L114.38 135.99 L114.53 136.03 L114.69 136.07 L114.85 136.11 L115.01 136.14 L115.18 136.19 L115.34 136.23 L115.51 136.27 L115.67 136.31 L115.84 136.36 L116.01 136.40 L116.19 136.45 L116.36 136.50 L116.54 136.54 L116.71 136.59 L116.89 136.64 L117.07 136.69 L117.25 136.74 L117.44 136.80 L117.62 136.85 L117.81 136.90 L118.00 136.96 L118.19 137.01 L118.38 137.07 L118.57 137.12 L118.77 137.18 L118.97 137.24 L119.17 137.30 L119.37 137.36 L119.57 137.41 L119.78 137.47 L119.98 137.53 L120.19 137.60 L120.40 137.66 L120.62 137.72 L120.83 137.78 L121.05 137.84 L121.27 137.91 L121.49 137.97 L121.71 138.03 L121.94 138.10 L122.16 138.16 L122.39 138.23 L122.62 138.29 L122.86 138.35 L123.09 138.42 L123.33 138.48 L123.57 138.55 L123.81 138.62 L124.06 138.68 L124.30 138.75 L124.55 138.81 L124.80 138.88 L125.06 138.94 L125.31 139.01 L125.57 139.08 L125.83 139.14 L126.10 139.21 L126.36 139.27 L126.63 139.34 L126.90 139.40 L127.17 139.47 L127.45 139.53 L127.73 139.60 L128.01 139.66 L128.29 139.73 L128.58 139.79 L128.86 139.85 L129.16 139.92 L129.45 139.98 L129.75 140.04 L130.05 140.11 L130.35 140.17 L130.65 140.23 L130.96 140.29 L131.27 140.35 L131.59 140.41 L131.90 140.47 L132.22 140.53 L132.54 140.59 L132.87 140.65 L133.20 140.71 L133.53 140.77 L133.86 140.82 L134.20 140.88 L134.54 140.94 L134.89 140.99 L135.23 141.05 L135.58 141.10 L135.94 141.15 L136.29 141.21 L136.65 141.26 L137.02 141.31 L137.38 141.36 L137.75 141.41 L138.13 141.46 L138.50 141.51 L138.89 141.56 L139.27 141.60 L139.66 141.65 L140.05 141.70 L140.44 141.74 L140.84 141.78 L141.24 141.83 L141.65 141.87 L142.06 141.91 L142.47 141.95 L142.89 141.99 L143.31 142.03 L143.74 142.07 L144.17 142.11 L144.60 142.15 L145.04 142.18 L145.48 142.22 L145.92 142.25 L146.37 142.29 L146.83 142.32 L147.28 142.35 L147.75 142.38 L148.21 142.41 L148.68 142.44 L149.16 142.47 L149.64 142.50 L150.12 142.53 L150.61 142.55 L151.10 142.58 L151.60 142.60 L152.10 142.63 L152.61 142.65 L153.12 142.67 L153.64 142.69 L154.16 142.71 L154.68 142.73 L155.21 142.75 L155.75 142.77 L156.29 142.78 L156.84 142.80 L157.39 142.82 L157.94 142.83 L158.50 142.84 L159.07 142.86 L159.64 142.87 L160.22 142.88 L160.80 142.89 L161.39 142.90 L161.98 142.91 L162.58 142.92 L163.18 142.92 L163.79 142.93 L164.41 142.94 L165.03 142.94 L165.65 142.94 L166.29 142.95 L166.92 142.95 L167.57 142.95 L168.22 142.95 L168.87 142.95 L169.54 142.95 L170.20 142.95 L170.88 142.95 L171.56 142.95 L172.25 142.95 L172.94 142.94 L173.64 142.94 L174.35 142.93 L175.06 142.93 L175.78 142.92 L176.51 142.92 L177.24 142.91 L177.98 142.90 L178.72 142.89 L179.48 142.88 L180.24 142.87 L181.01 142.86 L181.78 142.85 L182.56 142.84 L183.35 142.83 L184.15 142.82 L184.95 142.80 L185.76 142.79 L186.58 142.78 L187.41 142.76 L188.24 142.75 L189.08 142.73 L189.93 142.71 L190.79 142.70 L191.66 142.68 L192.53 142.66 L193.41 142.64 L194.30 142.63 L195.20 142.61 L196.11 142.59 L197.02 142.57 L197.94 142.55 L198.88 142.53 L199.82 142.51 L200.77 142.48 L201.72 142.46 L202.69 142.44 L203.67 142.42 L204.65 142.39 L205.64 142.37 L206.65 142.35 L207.66 142.32 L208.68 142.30 L209.71 142.27 L210.75 142.25 L211.80 142.22 L212.86 142.19 L213.93 142.17 L215.01 142.14 L216.10 142.11 L217.20 142.09 L218.32 142.06 L219.44 142.03 L220.57 142.00 L221.71 141.97 L222.86 141.94 L224.02 141.91 L225.20 141.88 L226.38 141.85 L227.58 141.82 L228.78 141.79 L230.00 141.75 L231.23 141.72 L232.47 141.69 L233.72 141.66 L234.99 141.62 L236.26 141.59 L237.55 141.55 L238.85 141.52 L240.16 141.48 L241.48 141.45 L242.82 141.41 L244.16 141.37 L245.52 141.34 L246.90 141.30 L248.28 141.26 L249.68 141.22 L251.09 141.18 L252.52 141.14 L253.95 141.10 L255.41 141.06 L256.87 141.02 L258.35 140.98 L259.84 140.93 L261.35 140.89 L262.86 140.85 L264.40 140.80 L265.95 140.76 L267.51 140.71 L269.09 140.66 L270.68 140.62 L272.28 140.57 L273.90 140.52 L275.54 140.47 L277.19 140.42 L278.86 140.37 L280.54 140.32 L282.24 140.26 L283.95 140.21 L285.68 140.16 L287.42 140.10 L289.19 140.05 L290.96 139.99 L292.76 139.93 L294.57 139.87 L296.40 139.82 L298.24 139.76 L300.10 139.69 L301.98 139.63 L303.88 139.57 L305.79 139.51 L307.72 139.44 L309.67 139.37 L311.64 139.31 L313.63 139.24 L315.63 139.17 L317.65 139.10 L319.69 139.03 L321.75 138.96 L323.83 138.88 L325.93 138.81 L328.05 138.73 L330.19 138.66 L332.35 138.58 L334.53 138.50 L336.72 138.42 L338.94 138.34 L341.18 138.26 L343.44 138.17 L345.72 138.09 L348.02 138.00 L350.35 137.92 L352.69 137.83 L355.06 137.74 L357.45 137.65 L359.86 137.56 L362.29 137.46 L364.75 137.37 L367.22 137.27 L369.72 137.18 L372.25 137.08 L374.80 136.98 L377.37 136.88 L379.96 136.78 L382.58 136.68 L385.23 136.58 L387.89 136.47 L390.59 136.37 L393.31 136.26 L396.05 136.15 L398.82 136.04 L401.61 135.94 L404.43 135.83 L407.28 135.72 L410.15 135.60 L413.05 135.49 L415.97 135.38 L418.93 135.27 L421.91 135.15 L424.92 135.04 L427.95 134.92 L431.02 134.80 L434.11 134.69 L437.23 134.57 L440.38 134.46 L443.56 134.34 L446.77 134.22 L450.01 134.10 L453.28 133.99 L456.58 133.87 L459.91 133.75 L463.27 133.64 L466.66 133.52 L470.08 133.40 L473.54 133.29 L477.02 133.18 L480.54 133.06 L484.09 132.95 L487.68 132.84 L491.30 132.73 L494.95 132.62 L498.63 132.51 L502.35 132.41 L506.11 132.30 L509.90 132.20 L513.72 132.10 L517.58 132.01 L521.48 131.91 L525.41 131.82 L529.37 131.73 L533.38 131.65 L537.42 131.56 L541.50 131.48" stroke="#00f" stroke-width="2.38" stroke-linecap="square" fill="none"/>
<text transform="translate(46.53 264.95) scale(1.000 1)" font-size="24.50">0.65</text>
<text transform="translate(46.53 226.50) scale(1.000 1)" font-size="24.50">0.70</text>
<text transform="translate(46.53 188.05) scale(1.000 1)" font-size="24.50">0.75</text>
<text transform="translate(46.53 149.60) scale(1.000 1)" font-size="24.50">0.80</text>
<text transform="translate(46.53 111.15) scale(1.000 1)" font-size="24.50">0.85</text>
<text transform="translate(46.53 72.70) scale(1.000 1)" font-size="24.50">0.90</text>
<text transform="translate(46.53 34.25) scale(1.000 1)" font-size="24.50">0.95</text>
<text transform="translate(91.39 310.70) scale(1.030 1)" font-size="24.50">0</text>
<text transform="translate(173.82 310.70) scale(1.030 1)" font-size="24.50">20</text>
<text transform="translate(262.94 310.70) scale(1.030 1)" font-size="24.50">40</text>
<text transform="translate(351.45 310.70) scale(1.030 1)" font-size="24.50">60</text>
<text transform="translate(440.32 310.70) scale(1.030 1)" font-size="24.50">80</text>
<text transform="translate(522.65 310.70) scale(1.030 1)" font-size="24.50">100</text>
<text transform="translate(277.93 349.50) scale(1.197 1)" font-size="26.50" font-style="italic">μ</text>
<text transform="translate(309.61 349.60) scale(0.928 1)" font-size="28.70">G</text>
<text transform="translate(327.63 349.60) scale(0.992 1)" font-size="27.50">e</text>
<text transform="translate(338.48 349.60) scale(1.017 1)" font-size="28.10">V</text>
<path d="M308.9 329.5 H305.25 V355.2 H308.9 M359.1 329.5 H362.75 V355.2 H359.1" stroke="#000" stroke-width="1.15" fill="none"/>
<text transform="translate(393.63 38.40) scale(1.221 1)" font-size="26.50" font-style="italic">μ</text>
<text transform="translate(409.63 41.94) scale(1.343 1)" font-size="16.32" font-style="italic">s</text>
<path d="M426.8 28.6 H445.4 M426.8 34.5 H445.4" stroke="#000" stroke-width="1" fill="none"/>
<text transform="translate(453.48 38.00) scale(1.011 1)" font-size="26.13">1</text>
<text transform="translate(475.84 38.20) scale(0.903 1)" font-size="28.70">G</text>
<text transform="translate(493.23 38.20) scale(0.992 1)" font-size="27.50">e</text>
<text transform="translate(504.07 38.20) scale(1.027 1)" font-size="28.25">V</text>
<path d="M573.6 49.75 H608.6" stroke="#000" stroke-width="2.38"/>
<path d="M574.7 103.1 H604.5" stroke="#000" stroke-width="2.38" stroke-dasharray="1.4 5.6"/>
<path d="M574.6 158.0 H603.2" stroke="#f00" stroke-width="2.38" stroke-dasharray="5.8 5.4"/>
<path d="M574.6 208.0 H603.2" stroke="#00f" stroke-width="2.38" stroke-dasharray="5.8 5.4"/>
<path d="M573.6 260.5 H608.6" stroke="#00f" stroke-width="2.38"/>
<text transform="translate(621.62 54.50) scale(1.050 1)" font-size="26.42" font-style="italic">M</text>
<text transform="translate(643.15 60.73) scale(1.163 1)" font-size="17.04">0</text>
<text transform="translate(621.62 107.75) scale(1.050 1)" font-size="26.42" font-style="italic">M</text>
<text transform="translate(643.15 113.98) scale(1.163 1)" font-size="17.04">0</text>
<text transform="translate(621.62 162.30) scale(1.050 1)" font-size="26.42" font-style="italic">M</text>
<text transform="translate(643.15 168.53) scale(1.163 1)" font-size="17.04">0</text>
<text transform="translate(621.51 213.50) scale(1.072 1)" font-size="26.27" font-style="italic">N</text>
<text transform="translate(621.51 265.85) scale(1.072 1)" font-size="26.27" font-style="italic">N</text>
<text transform="translate(646.17 44.30) scale(1.214 1)" font-size="16.76">OPE</text>
<text transform="translate(646.79 97.55) scale(1.061 1)" font-size="16.80">LL</text>
<text transform="translate(646.79 150.50) scale(1.061 1)" font-size="16.80">LL</text>
<path d="M669.9 146.2 H681.6" stroke="#000" stroke-width="1" fill="none"/>
<text transform="translate(682.72 150.50) scale(1.473 1)" font-size="13.73" font-style="italic">μ</text>
<text transform="translate(692.11 152.80) scale(1.725 1)" font-size="10.50">s</text>
<text transform="translate(642.58 255.10) scale(1.099 1)" font-size="16.49">FLW</text>
<path d="M649.50,206.00 C649.90,204.50 648.50,204.10 647.80,204.90 C646.90,205.90 646.60,207.70 646.35,209.50 L644.65,219.50 C644.30,221.30 643.60,222.90 642.50,223.10 C641.60,223.30 640.85,222.60 640.80,221.60" stroke="#000" stroke-width="0.85" fill="none" stroke-linecap="round"/><path d="M646.50,208.30 L644.50,220.30" stroke="#000" stroke-width="1.3" fill="none" stroke-linecap="round"/><circle cx="649.45" cy="206.10" r="1.0"/><circle cx="640.9" cy="221.50" r="1.0"/>
<path d="M649.50,260.70 C649.90,259.20 648.50,258.80 647.80,259.60 C646.90,260.60 646.60,262.40 646.35,264.20 L644.65,274.20 C644.30,276.00 643.60,277.60 642.50,277.80 C641.60,278.00 640.85,277.30 640.80,276.30" stroke="#000" stroke-width="0.85" fill="none" stroke-linecap="round"/><path d="M646.50,263.00 L644.50,275.00" stroke="#000" stroke-width="1.3" fill="none" stroke-linecap="round"/><circle cx="649.45" cy="260.80" r="1.0"/><circle cx="640.9" cy="276.20" r="1.0"/>
</svg>
</body></html>
